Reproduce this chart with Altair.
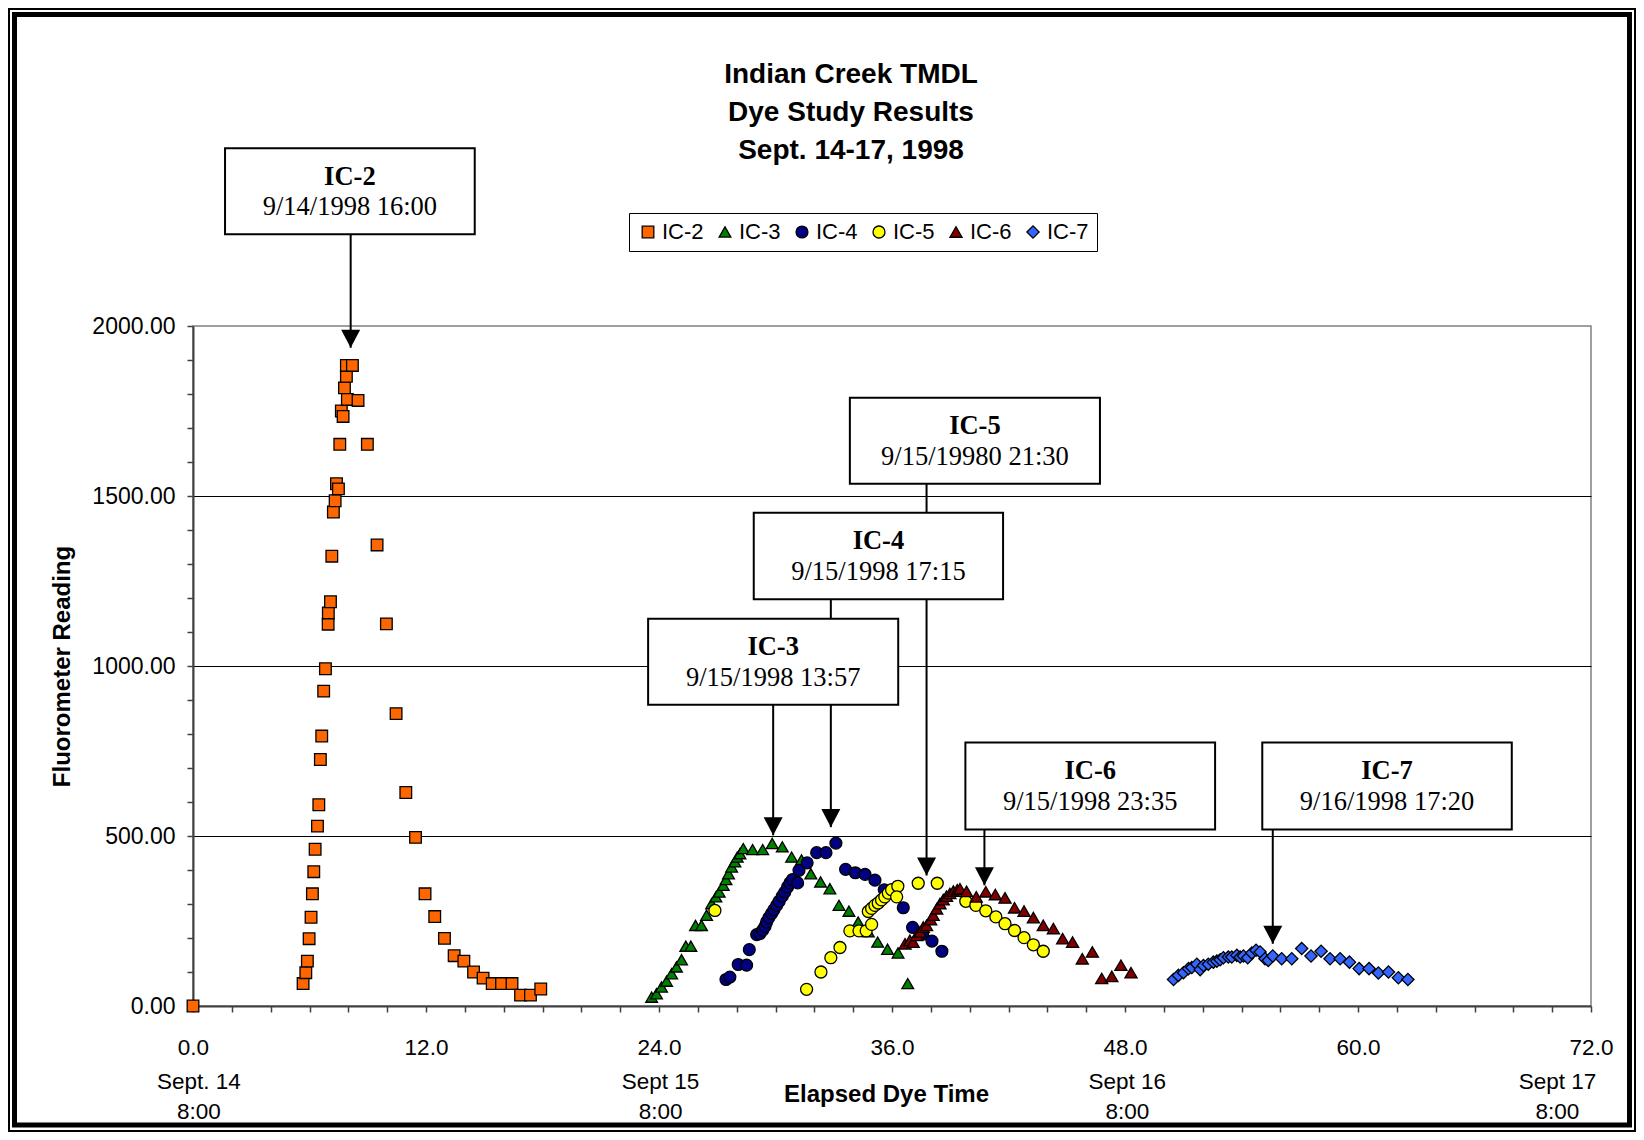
import altair as alt
import pandas as pd

# ---------------- data ----------------
series_names = ["IC-2", "IC-3", "IC-4", "IC-5", "IC-6", "IC-7"]

ic2_hours = [0.0, 5.67, 5.81, 5.89, 5.98, 6.08, 6.15, 6.22, 6.29, 6.41, 6.48, 6.56, 6.63, 6.73, 6.82, 6.96, 6.97,
             7.08, 7.15, 7.23, 7.32, 7.39, 7.49, 7.56, 7.64, 7.73, 7.80, 7.90, 7.90, 7.95, 8.21, 8.50, 8.98, 9.48,
             9.96, 10.46, 10.96, 11.46, 11.95, 12.45, 12.95, 13.45, 13.95, 14.45, 14.94, 15.41, 15.89, 16.43,
             16.87, 17.38, 17.91]
ic2_values = [0, 66, 98, 132, 198, 261, 330, 395, 461, 529, 592, 725, 794, 926, 992, 1123, 1156, 1189, 1323, 1453,
              1486, 1536, 1521, 1652, 1750, 1734, 1818, 1852, 1884, 1784, 1884, 1781, 1652, 1356, 1124, 860, 628,
              496, 330, 263, 199, 148, 132, 100, 82, 66, 66, 66, 32, 32, 50]

ic3_hours = [23.62, 23.87, 24.13, 24.39, 24.65, 24.90, 25.16, 25.38, 25.64, 25.88, 26.19, 26.45, 26.71, 26.93,
             27.10, 27.31, 27.45, 27.58, 27.74, 27.91, 28.03, 28.17, 28.34, 28.82, 29.34, 29.83, 30.35, 30.83,
             31.34, 31.82, 32.32, 32.80, 33.27, 33.78, 34.26, 34.78, 35.26, 35.77, 36.31, 36.81]
ic3_values = [26, 36, 56, 73, 95, 115, 136, 176, 176, 237, 237, 267, 301, 321, 335, 355, 372, 389, 409, 424, 438,
              448, 463, 460, 460, 478, 468, 438, 430, 389, 365, 345, 296, 279, 247, 218, 188, 167, 156, 66]

ic4_hours = [27.45, 27.65, 28.08, 28.51, 28.65, 29.03, 29.20, 29.34, 29.46, 29.54, 29.66, 29.80, 29.92, 30.06,
             30.19, 30.35, 30.48, 30.62, 30.74, 30.88, 31.14, 31.21, 31.63, 32.12, 32.60, 33.11, 33.61, 34.11,
             34.61, 35.12, 35.60, 36.58, 37.06, 37.58, 38.06, 38.57]
ic4_values = [78, 85, 122, 120, 166, 210, 213, 223, 234, 247, 260, 272, 283, 296, 308, 323, 335, 350, 362, 372,
              362, 399, 421, 451, 451, 479, 402, 392, 387, 370, 342, 289, 231, 211, 191, 161]

ic5_hours = [26.88, 31.60, 32.34, 32.85, 33.32, 33.83, 34.30, 34.67, 34.95, 34.78, 34.95, 35.12, 35.29, 35.46,
             35.63, 35.81, 35.98, 36.30, 36.24, 37.35, 38.33, 39.80, 40.32, 40.83, 41.35, 41.82, 42.31, 42.80,
             43.28, 43.79]
ic5_values = [281, 49, 100, 142, 172, 221, 221, 221, 240, 278, 287, 296, 303, 312, 321, 332, 342, 352, 321, 361,
              361, 308, 296, 280, 262, 242, 222, 201, 180, 161]

ic6_hours = [36.67, 36.92, 37.09, 37.27, 37.44, 37.61, 37.78, 37.99, 38.12, 38.30, 38.47, 38.64, 38.81, 38.98,
             39.16, 39.36, 39.50, 39.84, 40.34, 40.83, 41.32, 41.82, 42.31, 42.80, 43.28, 43.79, 44.31, 44.79,
             45.30, 45.80, 46.32, 46.80, 47.32, 47.79, 48.31]
ic6_values = [183, 193, 188, 208, 218, 232, 237, 254, 267, 286, 301, 313, 323, 331, 338, 342, 345, 337, 321, 336,
              328, 318, 289, 279, 260, 237, 228, 198, 188, 139, 159, 81, 87, 120, 98]

ic7_hours = [50.50, 50.75, 51.01, 51.27, 51.44, 51.70, 51.87, 52.04, 52.29, 52.55, 52.73, 52.90, 53.07, 53.32,
             53.50, 53.76, 53.93, 54.10, 54.32, 54.53, 54.75, 54.96, 55.21, 55.38, 55.61, 56.07, 56.59, 57.10,
             57.58, 58.10, 58.56, 59.08, 59.56, 60.06, 60.57, 61.05, 61.57, 62.08, 62.57]
ic7_values = [78, 90, 98, 110, 113, 123, 107, 119, 123, 129, 132, 136, 142, 144, 144, 149, 144, 147, 142, 156,
              164, 159, 139, 134, 147, 139, 139, 169, 147, 161, 139, 139, 129, 110, 110, 97, 100, 83, 78]

# annotation call-outs (text)
ann_labels = ["IC-2", "IC-3", "IC-4", "IC-5", "IC-6", "IC-7"]
ann_dates = ["9/14/1998 16:00", "9/15/1998 13:57", "9/15/1998 17:15", "9/15/19980 21:30",
             "9/15/1998 23:35", "9/16/1998 17:20"]

title_text = "Indian Creek TMDL\nDye Study Results\nSept. 14-17, 1998"
date_tick_text = ["Sept. 14\n8:00", "Sept 15\n8:00", "Sept 16\n8:00", "Sept 17\n8:00"]

# ---------------- layout / style ----------------
series_colors = ["#FF6600", "#008000", "#000080", "#FFFF00", "#800000", "#3366FF"]
series_shapes = ["square", "triangle-up", "circle", "circle", "triangle-up", "diamond"]
series_sizes = [135, 150, 100, 100, 150, 150]

box_left = [1.65, 23.44, 28.88, 33.83, 39.78, 55.07]
box_right = [14.51, 36.32, 41.72, 46.71, 52.64, 67.92]
box_top = [2523, 1139, 1451, 1789, 775, 775]
box_bottom = [2270, 886, 1196, 1536, 519, 519]
arrow_x = [8.12, 29.88, 32.85, 37.78, 40.76, 55.61]
arrow_tip = [1936, 502, 526, 384, 355, 183]
date_tick_x = [0.3, 24.08, 48.12, 70.27]

W, H = 1398, 680

# ---------------- build tables ----------------
all_hours = [ic2_hours, ic3_hours, ic4_hours, ic5_hours, ic6_hours, ic7_hours]
all_values = [ic2_values, ic3_values, ic4_values, ic5_values, ic6_values, ic7_values]
rows = []
for name, hs, vs in zip(series_names, all_hours, all_values):
    for h, v in zip(hs, vs):
        rows.append({"series": name, "hours": h, "reading": v})
df = pd.DataFrame(rows)

ann = pd.DataFrame({
    "label": ann_labels, "date": ann_dates,
    "x1": box_left, "x2": box_right, "top": box_top, "bottom": box_bottom,
    "ax": arrow_x, "tip": arrow_tip,
})
ann["cx"] = (ann["x1"] + ann["x2"]) / 2

dates_df = pd.DataFrame({"hours": date_tick_x, "label": date_tick_text})
one = pd.DataFrame({"k": [0]})

xs = alt.Scale(domain=[0, 72], nice=False, zero=False)
ys = alt.Scale(domain=[0, 2000], nice=False)

SANS = "Liberation Sans"
SERIF = "Liberation Serif"

x_axis = alt.Axis(
    values=list(range(0, 73, 2)),
    labelExpr="datum.value % 12 === 0 ? format(datum.value, '.1f') : ''",
    title="Elapsed Dye Time", titleFont=SANS, titleFontSize=24, titleFontWeight="bold",
    titleColor="black", titleBaseline="alphabetic", titleX=693, titleY=95,
    grid=False, tickSize=6, tickColor="#404040", tickWidth=1.5,
    domainColor="#404040", domainWidth=2,
    labelFont=SANS, labelFontSize=22.5, labelColor="black", labelPadding=24,
    labelFlush=False, labelOverlap=False,
)
y_axis = alt.Axis(
    values=list(range(0, 2001, 100)),
    labelExpr="datum.value % 500 === 0 ? format(datum.value, '.2f') : ''",
    title="Fluorometer Reading", titleFont=SANS, titleFontSize=24, titleFontWeight="bold",
    titleColor="black", titleBaseline="alphabetic", titleX=-124, titleY=340,
    grid=True, gridColor="black", gridWidth=1,
    gridOpacity={"condition": {"test": "datum.value % 500 === 0 && datum.value > 0 && datum.value < 2000",
                               "value": 1}, "value": 0},
    tickSize=6, tickColor="#404040", tickWidth=1.5,
    domainColor="#404040", domainWidth=2,
    labelFont=SANS, labelFontSize=23, labelColor="black", labelPadding=12, labelOverlap=False,
)

legend = alt.Legend(
    orient="none", legendX=436, legendY=-113, direction="horizontal", title=None,
    labelFont=SANS, labelFontSize=22, labelColor="black", labelOffset=3,
    symbolSize=130, symbolStrokeColor="black", symbolStrokeWidth=1.3,
    strokeColor="black", fillColor="white", padding=8, columnPadding=10,
)

points = alt.Chart(df).mark_point(filled=True, opacity=1, stroke="black", strokeWidth=1.3).encode(
    x=alt.X("hours:Q", scale=xs, axis=x_axis),
    y=alt.Y("reading:Q", scale=ys, axis=y_axis),
    color=alt.Color("series:N", scale=alt.Scale(domain=series_names, range=series_colors), legend=legend),
    shape=alt.Shape("series:N", scale=alt.Scale(domain=series_names, range=series_shapes), legend=legend),
    size=alt.Size("series:N", scale=alt.Scale(domain=series_names, range=series_sizes), legend=None),
)

lines = alt.Chart(ann).mark_rule(color="black", strokeWidth=2).encode(
    x=alt.X("ax:Q", scale=xs, axis=x_axis),
    y=alt.Y("bottom:Q", scale=ys, axis=y_axis),
    y2="tip:Q",
)
boxes = alt.Chart(ann).mark_rect(fill="white", stroke="black", strokeWidth=2).encode(
    x=alt.X("x1:Q", scale=xs, axis=x_axis), x2="x2:Q",
    y=alt.Y("top:Q", scale=ys, axis=y_axis), y2="bottom:Q",
)
label_text = alt.Chart(ann).mark_text(font=SERIF, fontSize=26.5, fontWeight="bold", align="center",
                                      baseline="alphabetic", dy=36.5, color="black").encode(
    x=alt.X("cx:Q", scale=xs, axis=x_axis), y=alt.Y("top:Q", scale=ys, axis=y_axis), text="label:N")
date_text = alt.Chart(ann).mark_text(font=SERIF, fontSize=26.5, align="center",
                                     baseline="alphabetic", dy=67.3, color="black").encode(
    x=alt.X("cx:Q", scale=xs, axis=x_axis), y=alt.Y("top:Q", scale=ys, axis=y_axis), text="date:N")
heads = alt.Chart(ann).mark_point(shape="M0,0 L-1,-1.9 L1,-1.9 Z", size=361, filled=True, opacity=1,
                                  color="black", strokeWidth=0).encode(
    x=alt.X("ax:Q", scale=xs, axis=x_axis), y=alt.Y("tip:Q", scale=ys, axis=y_axis))

date_ticks = alt.Chart(dates_df).mark_text(font=SANS, fontSize=22.5, align="center", baseline="alphabetic",
                                           lineBreak="\n", lineHeight=30, color="black").encode(
    x=alt.X("hours:Q", scale=xs, axis=x_axis), y=alt.value(763), text="label:N")

title = alt.Chart(one).mark_text(text=title_text, lineBreak="\n", lineHeight=37.7, font=SANS, fontSize=28,
                                 fontWeight="bold", align="center", baseline="alphabetic", color="black").encode(
    x=alt.value(658), y=alt.value(-242.6))

frame_thin = alt.Chart(one).mark_rect(filled=False, stroke="black", strokeWidth=2).encode(
    x=alt.value(-184), x2=alt.value(1442), y=alt.value(-317), y2=alt.value(805))
frame_thick = alt.Chart(one).mark_rect(filled=False, stroke="black", strokeWidth=5).encode(
    x=alt.value(-178.5), x2=alt.value(1436.5), y=alt.value(-311.5), y2=alt.value(799))

chart = alt.layer(
    points, lines, boxes, label_text, date_text, heads, date_ticks, title, frame_thin, frame_thick
).properties(
    width=W, height=H, padding=0, background="white"
).configure_view(stroke="#808080", strokeWidth=1.5)

chart.save("out.html", embed_options={"renderer": "svg", "actions": False})
